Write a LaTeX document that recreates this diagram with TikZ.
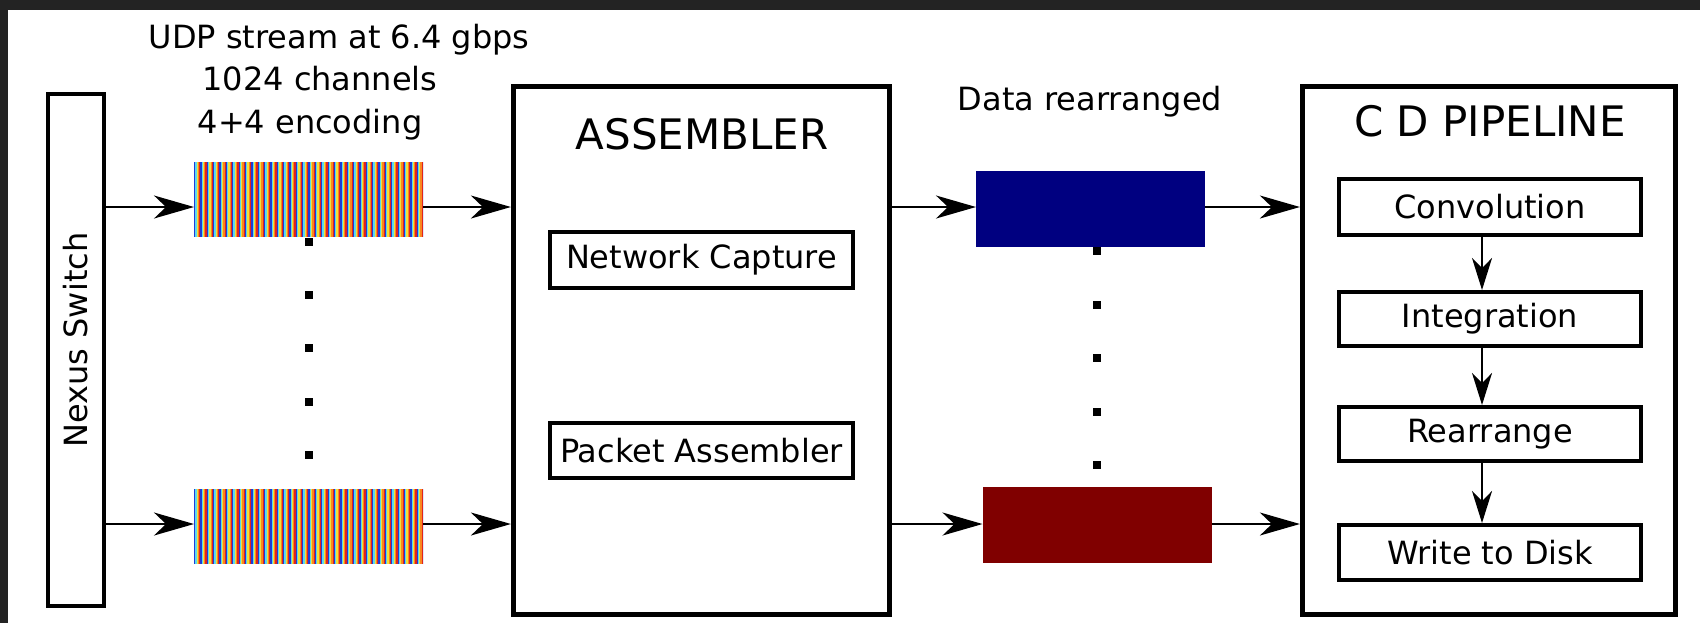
\documentclass[tikz,border=0pt]{standalone}
\usepackage{fontspec}
\setmainfont{DejaVu Sans}
\usetikzlibrary{arrows.meta}
\definecolor{frame}{HTML}{232323}
\definecolor{navyb}{HTML}{000080}
\definecolor{maroonb}{HTML}{800000}
\definecolor{jet0}{RGB}{30,60,215}
\definecolor{jet1}{RGB}{90,215,240}
\definecolor{jet2}{RGB}{240,225,60}
\definecolor{jet3}{RGB}{250,135,30}
\definecolor{jet4}{RGB}{225,35,30}
\begin{document}
\begin{tikzpicture}[x=0.5pt,y=-0.5pt,
  outerbox/.style={draw, line width=2.6pt, inner sep=0pt},
  innerbox/.style={draw, line width=2pt, inner sep=0pt, font=\fontsize{16}{19}\selectfont},
  lbl/.style={font=\fontsize{16}{19}\selectfont, inner sep=0pt},
  ttl/.style={font=\fontsize{21}{25}\selectfont, inner sep=0pt},
  stripebox/.style={inner sep=0pt, outer sep=0pt, minimum width=114.5pt, minimum height=37.5pt},
  databox/.style={inner sep=0pt, outer sep=0pt, minimum width=114.5pt, minimum height=38pt},
  dotsq/.style={fill=black, inner sep=0pt, minimum size=4pt},
  arr/.style={-{Stealth[length=20pt,width=11.5pt,inset=6pt]}, line width=1pt},
  varr/.style={-{Stealth[length=16pt,width=10pt,inset=5pt]}, line width=1pt}]
\useasboundingbox (0,0) rectangle (1700,623);
\fill[frame] (0,0) rectangle (1700,623);
\fill[white] (8,10) rectangle (1700,623);

% Nexus switch
\node[outerbox, line width=2.3pt, minimum width=28pt, minimum height=256pt] (nexus) at (76,350) {};
\node[lbl, rotate=90] (nexuslbl) at (76,340) {Nexus Switch};

% stream labels
\node[lbl, anchor=base] (udp1) at (339,48) {UDP stream at 6.4 gbps};
\node[lbl, anchor=base] (udp2) at (320,90) {1024 channels};
\node[lbl, anchor=base] (udp3) at (310,133) {4+4 encoding};

% striped streams
\node[stripebox] (s1) at (308.5,199.5) {};
\node[stripebox] (s2) at (308.5,526) {};
\foreach \s in {s1,s2}{
  \begin{scope}[shift={(\s.north west)}]
    \clip (0,0) rectangle (229,75);
    \foreach \i in {0,...,180}{
      \pgfmathtruncatemacro\k{mod(\i,5)}
      \fill[jet\k] (\i*1.272,0) rectangle (\i*1.272+1.4,75);
    }
  \end{scope}
}
\foreach \n/\y in {1/242,2/295,3/348,4/402,5/455}{
  \node[dotsq] (ld\n) at (309,\y) {};
}

% Assembler
\node[outerbox, minimum width=188pt, minimum height=264pt] (asm) at (701.5,350.5) {};
\node[ttl] (asmttl) at (702,134) {ASSEMBLER};
\node[innerbox, minimum width=151.5pt, minimum height=28pt] (netcap) at (701.5,260) {Network Capture};
\node[innerbox, minimum width=151.5pt, minimum height=27.5pt] (pktasm) at (701.5,450.5) {Packet Assembler};

% rearranged data
\node[lbl, anchor=base] (datalbl) at (1090,110) {Data rearranged};
\node[databox, fill=navyb] (blue) at (1090.5,209) {};
\node[databox, fill=maroonb] (red) at (1097,525) {};
\foreach \n/\y in {1/251,2/305,3/358,4/412,5/465}{
  \node[dotsq] (rd\n) at (1097,\y) {};
}

% CD pipeline
\node[outerbox, minimum width=186.5pt, minimum height=264pt] (cd) at (1489,350.5) {};
\node[ttl] (cdttl) at (1490,121) {C D PIPELINE};
\node[innerbox, minimum width=151pt, minimum height=28pt] (conv) at (1490,207) {Convolution};
\node[innerbox, minimum width=151pt, minimum height=27pt] (integ) at (1490,319) {Integration};
\node[innerbox, minimum width=151pt, minimum height=27pt] (rearr) at (1490,434) {Rearrange};
\node[innerbox, minimum width=151pt, minimum height=27.5pt] (wdisk) at (1490,552.5) {Write to Disk};

% connectors
\coordinate (rowA) at (0,207);
\coordinate (rowB) at (0,524);
\coordinate (colV) at (1482,0);
\draw[arr] (nexus.east |- rowA) -- (s1.west |- rowA);
\draw[arr] (s1.east |- rowA) -- (asm.west |- rowA);
\draw[arr] (asm.east |- rowA) -- (blue.west |- rowA);
\draw[arr] (blue.east |- rowA) -- (cd.west |- rowA);
\draw[arr] (nexus.east |- rowB) -- (s2.west |- rowB);
\draw[arr] (s2.east |- rowB) -- (asm.west |- rowB);
\draw[arr] (asm.east |- rowB) -- (red.west |- rowB);
\draw[arr] (red.east |- rowB) -- (cd.west |- rowB);
\draw[varr] (conv.south -| colV) -- (integ.north -| colV);
\draw[varr] (integ.south -| colV) -- (rearr.north -| colV);
\draw[varr] (rearr.south -| colV) -- (wdisk.north -| colV);
\end{tikzpicture}
\end{document}
